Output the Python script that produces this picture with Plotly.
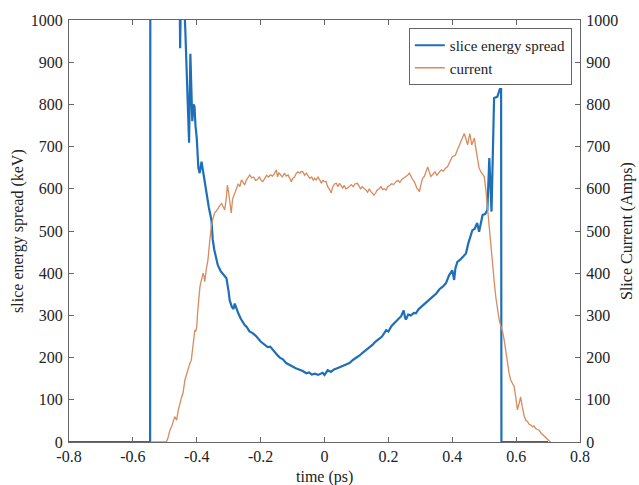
import plotly.graph_objects as go

# slice energy spread (keV), left axis
spread_t = [-0.8, -0.546, -0.545, -0.50, -0.455, -0.452, -0.449, -0.44, -0.436, -0.43, -0.424, -0.42,
            -0.414, -0.41, -0.407, -0.404, -0.40, -0.395, -0.391, -0.385, -0.38, -0.375, -0.37, -0.362,
            -0.354, -0.35, -0.345, -0.34, -0.334, -0.325, -0.315, -0.307, -0.30, -0.297, -0.29, -0.285,
            -0.281, -0.277, -0.27, -0.262, -0.256, -0.25, -0.243, -0.235, -0.225, -0.213, -0.2, -0.19,
            -0.178, -0.17, -0.162, -0.15, -0.14, -0.13, -0.12, -0.11, -0.1, -0.09, -0.078, -0.068,
            -0.057, -0.048, -0.04, -0.03, -0.02, -0.006, 0.0, 0.01, 0.02, 0.03, 0.04, 0.05, 0.06, 0.07,
            0.078, 0.09, 0.1, 0.11, 0.12, 0.13, 0.14, 0.15, 0.16, 0.17, 0.18, 0.193, 0.2, 0.21, 0.22,
            0.23, 0.24, 0.244, 0.248, 0.252, 0.255, 0.262, 0.27, 0.28, 0.286, 0.295, 0.305, 0.315,
            0.328, 0.338, 0.35, 0.36, 0.37, 0.38, 0.39, 0.40, 0.406, 0.41, 0.416, 0.425, 0.435, 0.443,
            0.45, 0.457, 0.463, 0.47, 0.478, 0.484, 0.49, 0.495, 0.503, 0.51, 0.516, 0.523, 0.531,
            0.541, 0.549, 0.553, 0.554, 0.7]
spread_v = [0, 0, 1800, 2500, 1200, 933, 1100, 1050, 980, 850, 709, 920,
            760, 800, 795, 750, 720, 650, 637, 664, 640, 621, 590, 555,
            526, 480, 455, 440, 419, 405, 395, 388, 355, 336, 320, 315,
            328, 318, 305, 292, 283, 277, 272, 262, 258, 250, 238, 232,
            225, 226, 218, 208, 200, 196, 187, 182, 179, 175, 172, 168,
            163, 165, 160, 162, 159, 164, 159, 170, 166, 172, 175, 178, 180, 184,
            187, 195, 199, 205, 212, 218, 222, 230, 238, 245, 250, 265, 262, 275, 283,
            290, 298, 305, 312, 296, 290, 302, 300, 306, 305, 315, 322, 330,
            338, 344, 352, 362, 368, 376, 395, 407, 384, 412, 427, 432, 440, 447,
            470, 490, 502, 505, 519, 498, 525, 538, 540, 550, 673, 546, 815,
            818, 836, 836, 0, 0]

# current (Amps), right axis
current_t = [-0.542, -0.52, -0.495, -0.49, -0.484, -0.478, -0.472, -0.469, -0.466, -0.463, -0.458, -0.453,
             -0.448, -0.443, -0.437, -0.432, -0.427, -0.422, -0.417, -0.412, -0.408, -0.406, -0.403, -0.40,
             -0.397, -0.393, -0.39, -0.385, -0.38, -0.377, -0.375, -0.37, -0.365, -0.359, -0.354, -0.349,
             -0.344, -0.338, -0.333, -0.328, -0.322, -0.318, -0.3125, -0.308, -0.304, -0.3, -0.296, -0.292,
             -0.288, -0.282, -0.276, -0.27, -0.265, -0.26, -0.255, -0.25, -0.245, -0.24, -0.234, -0.228,
             -0.222, -0.216, -0.21, -0.204, -0.198, -0.193, -0.187, -0.181, -0.175, -0.169, -0.163, -0.157,
             -0.151, -0.147, -0.143, -0.138, -0.132, -0.125, -0.12, -0.114, -0.109, -0.104, -0.099, -0.094,
             -0.088, -0.083, -0.078, -0.073, -0.068, -0.062, -0.057, -0.052, -0.046, -0.04, -0.035, -0.031,
             -0.026, -0.02, -0.015, -0.01, -0.005, 0.0, 0.005, 0.01, 0.016, 0.021, 0.026, 0.032,
             0.037, 0.042, 0.047, 0.052, 0.057, 0.062, 0.067, 0.073, 0.078, 0.084, 0.09, 0.096,
             0.103, 0.108, 0.113, 0.118, 0.124, 0.13, 0.135, 0.14, 0.145, 0.15, 0.155, 0.16,
             0.165, 0.171, 0.177, 0.182, 0.187, 0.193, 0.198, 0.204, 0.21, 0.216, 0.22, 0.224,
             0.23, 0.236, 0.242, 0.248, 0.254, 0.26, 0.266, 0.271, 0.276, 0.281, 0.286, 0.29,
             0.294, 0.297, 0.302, 0.307, 0.313, 0.318, 0.323, 0.328, 0.333, 0.34, 0.346, 0.352,
             0.357, 0.36, 0.366, 0.372, 0.378, 0.385, 0.39, 0.395, 0.40, 0.405, 0.41, 0.415,
             0.42, 0.425, 0.43, 0.4375, 0.443, 0.448, 0.452, 0.455, 0.458, 0.461, 0.465, 0.469,
             0.473, 0.478, 0.484, 0.49, 0.495, 0.5, 0.505, 0.51, 0.515, 0.52, 0.526, 0.532,
             0.537, 0.542, 0.547, 0.552, 0.5575, 0.5625, 0.567, 0.572, 0.578, 0.583, 0.588, 0.594,
             0.599, 0.604, 0.609, 0.614, 0.619, 0.625, 0.63, 0.636, 0.641, 0.646, 0.651, 0.656,
             0.661, 0.666, 0.672, 0.677, 0.682, 0.687, 0.693, 0.698, 0.703, 0.708]
current_v = [0, 0, 0, 10, 28, 38, 50, 60, 56, 52, 75, 92,
             105, 116, 147, 160, 175, 185, 194, 225, 255, 265, 262, 273,
             310, 345, 368, 385, 400, 392, 380, 410, 431, 479, 514, 530,
             543, 548, 555, 560, 565, 560, 550, 575, 609, 590, 570, 542,
             575, 588, 597, 612, 605, 621, 615, 609, 620, 625, 633, 626,
             628, 620, 622, 628, 620, 617, 625, 632, 628, 633, 630, 636,
             645, 628, 638, 633, 628, 637, 630, 633, 626, 617, 625, 628,
             637, 640, 637, 641, 640, 632, 637, 630, 625, 628, 620, 625,
             621, 628, 622, 614, 620, 617, 617, 605, 598, 590, 605, 612,
             613, 605, 613, 608, 602, 608, 600, 602, 605, 610, 605, 612,
             613, 605, 600, 605, 602, 597, 592, 600, 594, 588, 585, 590,
             597, 600, 605, 598, 600, 597, 605, 608, 612, 610, 615, 617,
             620, 615, 622, 625, 628, 632, 637, 628, 622, 617, 608, 600,
             598, 593, 610, 625, 630, 640, 652, 640, 629, 635, 640, 632,
             638, 640, 645, 642, 648, 652, 660, 668, 676, 678, 680, 690,
             700, 705, 720, 731, 718, 704, 720, 731, 718, 704, 712, 720,
             700, 672, 649, 640, 635, 629, 600, 558, 510, 462, 415, 375,
             340, 310, 289, 275, 262, 242, 215, 190, 163, 147, 140, 131,
             105, 76, 90, 107, 85, 62, 52, 48, 42, 40, 36, 38,
             32, 30, 28, 22, 18, 15, 10, 6, 3, 0]

x_ticks = [-0.8, -0.6, -0.4, -0.2, 0, 0.2, 0.4, 0.6, 0.8]
y_ticks = [0, 100, 200, 300, 400, 500, 600, 700, 800, 900, 1000]

FONT = "Liberation Serif, Times New Roman, serif"
AX = "#666666"
TXT = "#222222"

fig = go.Figure()
fig.add_trace(go.Scatter(x=spread_t, y=spread_v, mode="lines", name="slice energy spread",
                         line=dict(color="#1f6fb8", width=2.2)))
fig.add_trace(go.Scatter(x=current_t, y=current_v, mode="lines", name="current", yaxis="y2",
                         line=dict(color="#d98a5e", width=1.3)))

axis_common = dict(showline=True, linecolor=AX, linewidth=1.2, ticks="inside", ticklen=5,
                   tickcolor=AX, showgrid=False, zeroline=False, automargin=False,
                   tickfont=dict(family=FONT, size=16, color=TXT))

fig.update_layout(
    width=639, height=485,
    margin=dict(l=69, r=59, t=20, b=43, autoexpand=False),
    paper_bgcolor="white", plot_bgcolor="white",
    font=dict(family=FONT, size=16, color=TXT),
    xaxis=dict(range=[-0.8, 0.8], tickvals=x_ticks, ticktext=[f"{v:g}" for v in x_ticks],
               mirror="ticks", ticklabelstandoff=0, **axis_common),
    yaxis=dict(range=[0, 1000], tickvals=y_ticks, ticklabelstandoff=2, **axis_common),
    yaxis2=dict(range=[0, 1000], tickvals=y_ticks, overlaying="y", side="right",
                ticklabelstandoff=2, **axis_common),
    legend=dict(x=0.984, xanchor="right", y=0.981, yanchor="top",
                bgcolor="white", bordercolor=AX, borderwidth=1,
                font=dict(family=FONT, size=15, color="#222222"),
                tracegroupgap=0, itemwidth=30),
    showlegend=True,
    annotations=[
        dict(text="time (ps)", xref="paper", yref="paper", x=0.5, y=-0.056,
             xanchor="center", yanchor="top", showarrow=False,
             font=dict(family=FONT, size=16, color=TXT)),
        dict(text="slice energy spread (keV)", xref="paper", yref="paper", x=-0.1, y=0.5,
             xanchor="center", yanchor="middle", textangle=-90, showarrow=False,
             font=dict(family=FONT, size=16, color=TXT)),
        dict(text="Slice Current (Amps)", xref="paper", yref="paper", x=1.092, y=0.5,
             xanchor="center", yanchor="middle", textangle=-90, showarrow=False,
             font=dict(family=FONT, size=16, color=TXT)),
    ],
)

fig.write_html("out.html", config={"displayModeBar": False},
               post_script="document.body.style.margin='0';document.body.style.overflow='hidden';")
